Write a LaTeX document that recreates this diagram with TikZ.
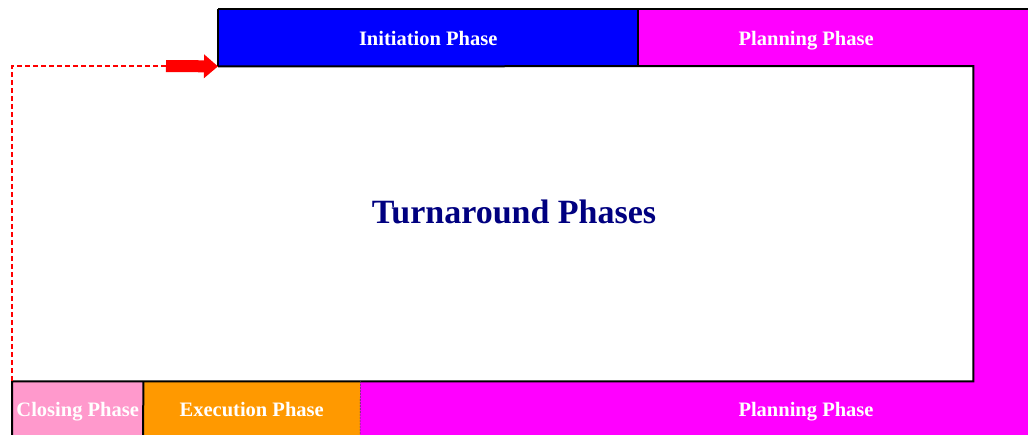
\documentclass[tikz,border=0pt]{standalone}
\usepackage{fontspec}
\setmainfont{Liberation Serif}
\usetikzlibrary{arrows.meta}
\definecolor{phblue}{HTML}{0000FF}
\definecolor{phmag}{HTML}{FF00FF}
\definecolor{phpink}{HTML}{FF99CC}
\definecolor{phorange}{HTML}{FF9900}
\definecolor{phnavy}{HTML}{000080}
\definecolor{phred}{HTML}{FF0000}
\tikzset{
  phasebox/.style={rectangle, inner sep=0pt, anchor=north west,
    text=white, text height=15pt, text depth=0pt,
    font=\bfseries\fontsize{20.5}{24}\selectfont},
  border/.style={draw=black, line width=2pt},
  loopline/.style={draw=phred, line width=1.4pt, dash pattern=on 5pt off 3pt},
}
\begin{document}
\begin{tikzpicture}[x=1pt,y=-1pt]
\useasboundingbox (0,0) rectangle (1028,434);
\clip (0,0) rectangle (1028,434);

% magenta band wrapping round the right side
\fill[phmag] (638,9) -- (1040,9) -- (1040,445) -- (360,445) -- (360,381)
  -- (973,381) -- (973,66) -- (638,66) -- cycle;

% phase boxes
\node[phasebox, fill=phblue, minimum width=420pt, minimum height=57pt] (init) at (218,9) {Initiation Phase};
\node[phasebox, minimum width=336pt, minimum height=57pt] (plantop) at (638,9) {Planning Phase};
\node[phasebox, fill=phpink, minimum width=131pt, minimum height=55pt] (close) at (12,381) {Closing Phase};
\node[phasebox, fill=phorange, minimum width=217pt, minimum height=55pt] (exec) at (143,381) {Execution Phase};
\node[phasebox, minimum width=892pt, minimum height=55pt] (planbot) at (360,381) {};
\node[phasebox, anchor=center] (planbotlabel) at (806,408.5) {Planning Phase};

% central area
\node[rectangle, inner sep=0pt, anchor=north west, fill=white,
  minimum width=961pt, minimum height=315pt] (main) at (12,66) {};
\node[text=phnavy, font=\bfseries\fontsize{34}{40}\selectfont] (title) at (514,212) {Turnaround Phases};

% outlines
\draw[border] (init.north west) -- (1040,9);
\draw[border] (init.north west) -- (init.south west);
\draw[border] (init.north east) -- (init.south east);
\draw[border] (init.south west) -- (main.north east) -- (main.south east) -- (main.south west) -- (12,445);
\draw[border] (close.north east) -- (143,445);
\draw[black!70, line width=0.6pt, dash pattern=on 2pt off 1pt] (exec.north east) -- (360,445);

% loop back from closing to initiation
\coordinate (turn) at (12,66);
\coordinate (arrowstart) at (166,66);
\draw[loopline] (close.north west) -- (turn) -- (arrowstart);
\draw[phred, line width=12pt, -{Triangle[length=14pt, width=23pt]}] (arrowstart) -- (init.south west);
\end{tikzpicture}
\end{document}
